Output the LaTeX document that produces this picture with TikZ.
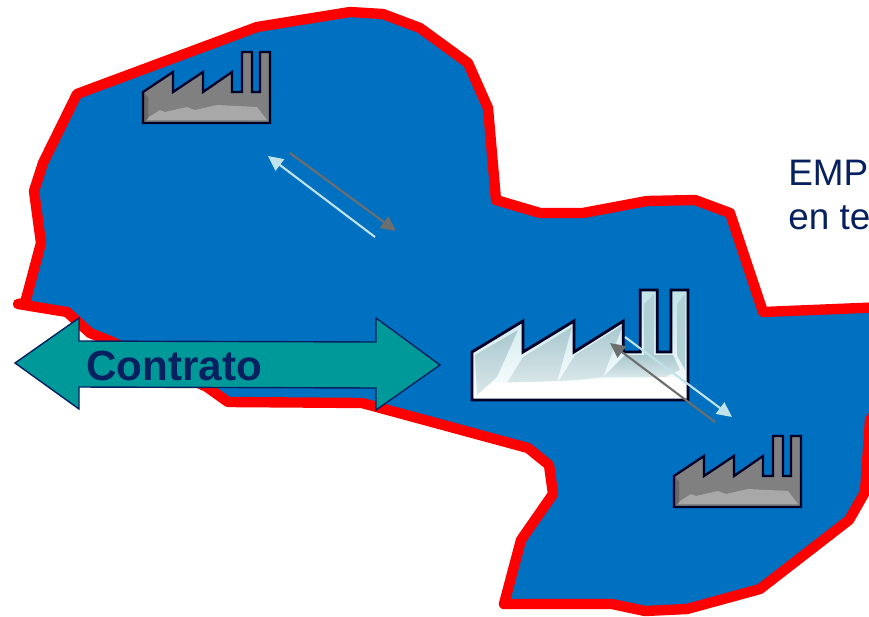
\documentclass[tikz,border=0pt]{standalone}
\usepackage{fontspec}
\setmainfont{Liberation Sans}
\usetikzlibrary{arrows.meta}
\definecolor{mapblue}{HTML}{0070C0}
\definecolor{mapred}{HTML}{FF0000}
\definecolor{navytext}{HTML}{062060}
\definecolor{dealteal}{HTML}{009999}
\definecolor{flowgrey}{HTML}{6E6E6E}
\definecolor{flowpale}{HTML}{BFE3E8}
\definecolor{facetblue}{HTML}{A9C8CE}
\tikzset{
	flowline/.style={line width=1.2pt, -{Triangle[length=8.5pt,width=8pt]}},
	plantline/.style={draw=black!85!blue, line join=miter},
	facet/.style={top color=facetblue, bottom color=facetblue!45!white},
}
\def\plantoutline{(0,40) -- (30,20) -- (30,40) -- (60,20) -- (60,40) -- (89,20) -- (89,40) -- (99,40) -- (99,0) -- (109,0) -- (109,40) -- (117,40) -- (117,0) -- (127,0) -- (127,71) -- (0,71) -- cycle}
\def\greyplant(#1,#2){
	\begin{scope}[shift={(#1,#2)}]
		\fill[black!50] \plantoutline;
		\fill[black!60] (1,41) -- (5,45) -- (5,66) -- (1,70) -- cycle;
		\fill[black!34] (4,68) -- (6,65) -- (17,58) -- (22,60) -- (44,55) -- (52,58) -- (74,53) -- (114,55) -- (124,68) -- cycle;
		\draw[plantline, line width=1.3pt] \plantoutline;
	\end{scope}
}

\begin{document}
\begin{tikzpicture}[x=0.02cm, y=-0.02cm]
		%%%%% START %%%%%
		\useasboundingbox (0, 0) rectangle (869, 616);
		\clip (0, 0) rectangle (869, 616);
		\fill[white] (0, 0) rectangle (869, 616);
		
		% territory
		\draw[fill=mapblue, draw=mapred, line width=5.9pt, line join=round, line cap=round]
			(18, 304) -- (67, 312) -- (90, 333) -- (110, 341) -- (207, 387) -- (228, 402) -- (362, 403)
			-- (528, 448) -- (549, 465) -- (553, 494) -- (521, 540) -- (504, 604) -- (612, 604)
			-- (645, 611) -- (687, 609) -- (760, 589) -- (849, 520) -- (865, 492) -- (870, 420)
			-- (885, 400) -- (885, 307) -- (763, 312) -- (730, 213) -- (695, 200) -- (647, 201)
			-- (583, 213) -- (540, 213) -- (496, 200) -- (488, 108) -- (468, 63) -- (420, 28)
			-- (383, 14) -- (350, 12) -- (257, 27) -- (77, 94) -- (43, 163) -- (34, 191)
			-- (41, 243) -- (25, 303) -- cycle;
		
		% small plants
		\greyplant(143,52)
		\greyplant(674,436)
		
		% big plant
		\begin{scope}[shift={(472,290)}, xscale=1.7, yscale=1.55]
			\shade[top color=flowpale, bottom color=white] \plantoutline;
		\end{scope}
		\shade[facet] (475, 355) -- (518, 330) -- (497, 377) -- (477, 395) -- cycle;
		\shade[facet] (523, 357) -- (572, 327) -- (557, 382) -- (507, 383) -- cycle;
		\shade[facet] (575, 355) -- (623, 325) -- (603, 377) -- (558, 382) -- cycle;
		\shade[facet] (603, 377) -- (625, 355) -- (673, 355) -- (680, 370) -- (665, 377) -- cycle;
		\fill[facetblue!70!flowpale] (654, 294) -- (644, 304) -- (644, 355) -- (654, 355) -- cycle;
		\fill[facetblue!70!flowpale] (685, 294) -- (677, 304) -- (677, 355) -- (685, 370) -- cycle;
		\fill[white] (473, 398) -- (493, 383) -- (560, 381) -- (665, 377) -- (680, 377) -- (687, 398) -- cycle;
		\begin{scope}[shift={(472,290)}, xscale=1.7, yscale=1.55]
			\draw[plantline, line width=1.6pt] \plantoutline;
		\end{scope}
		
		% flows
		\coordinate (topgreystart) at (290, 153);
		\coordinate (topgreyend) at (396, 231);
		\coordinate (toppalestart) at (375, 237);
		\coordinate (toppaleend) at (268, 156);
		\coordinate (lowgreystart) at (715, 422);
		\coordinate (lowgreyend) at (610, 343);
		\coordinate (lowpalestart) at (625, 337);
		\coordinate (lowpaleend) at (732, 417);
		\draw[flowline, flowgrey] (topgreystart) -- (topgreyend);
		\draw[flowline, flowpale] (toppalestart) -- (toppaleend);
		\draw[flowline, flowpale] (lowpalestart) -- (lowpaleend);
		\draw[flowline, flowgrey] (lowgreystart) -- (lowgreyend);
		
		% contract arrow
		\draw[fill=dealteal, draw=navytext, line width=0.8pt, line join=miter]
			(15, 363) -- (79, 318) -- (79, 341) -- (376, 342) -- (376, 318) -- (440, 365)
			-- (376, 410) -- (376, 388) -- (79, 387) -- (79, 409) -- cycle;
		\node[anchor=base west, inner sep=0pt, text=navytext, font=\bfseries\fontsize{24}{28}\selectfont] (contrato) at (86, 380) {Contrato};
		
		% cut off text
		\node[anchor=base west, inner sep=0pt, text=navytext, font=\fontsize{21}{24}\selectfont] (emp) at (788, 185) {EMP};
		\node[anchor=base west, inner sep=0pt, text=navytext, font=\fontsize{21}{24}\selectfont] (ente) at (788, 229) {en te};
		%%%%% END %%%%%
	\end{tikzpicture}
\end{document}
